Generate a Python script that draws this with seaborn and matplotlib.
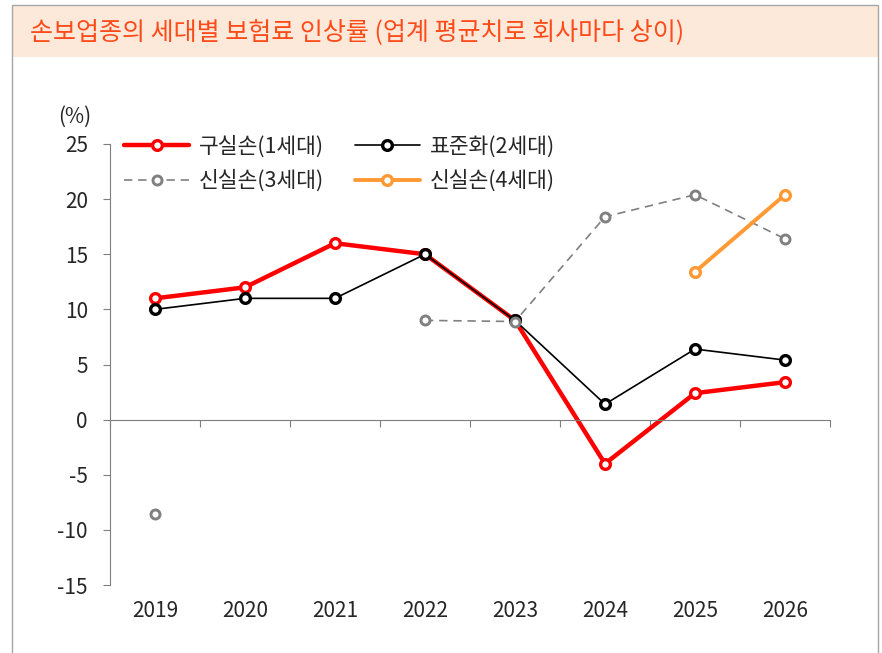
import numpy as np
import matplotlib
matplotlib.use("Agg")
import matplotlib.pyplot as plt
import matplotlib.transforms as mtransforms
from matplotlib.lines import Line2D
from matplotlib.patches import Rectangle
import seaborn as sns

# ----------- 데이터 -----------
years = ["2019", "2020", "2021", "2022", "2023", "2024", "2025", "2026"]
gen1 = [11, 12, 16, 15, 9, -4, 2.4, 3.4]                       # 구실손(1세대)
gen2 = [10, 11, 11, 15, 9, 1.4, 6.4, 5.4]                      # 표준화(2세대)
gen3 = [-8.6, np.nan, np.nan, 9, 8.9, 18.4, 20.4, 16.4]        # 신실손(3세대)
gen4 = [np.nan, np.nan, np.nan, np.nan, np.nan, np.nan, 13.4, 20.4]  # 신실손(4세대)
labels = ["구실손(1세대)", "표준화(2세대)", "신실손(3세대)", "신실손(4세대)"]
title = "손보업종의 세대별 보험료 인상률 (업계 평균치로 회사마다 상이)"

sns.set_style("white")
plt.rcParams["font.family"] = ["Noto Sans CJK KR", "DejaVu Sans"]
plt.rcParams["axes.unicode_minus"] = False

fig = plt.figure(figsize=(8.82, 6.53), dpi=100)
ax = fig.add_axes([110 / 882, 1 - 585 / 653, 720 / 882, 441 / 653])

# 상단 제목 띠 + 테두리
fig.patches.append(Rectangle((12 / 882, 1 - 57 / 653), 866 / 882, 52 / 653,
                             transform=fig.transFigure, facecolor="#fde9d9",
                             edgecolor="none", zorder=0))
fig.patches.append(Rectangle((12 / 882, -0.01), 866 / 882, 1.01 - 5 / 653,
                             transform=fig.transFigure, facecolor="none",
                             edgecolor="#a6a6a6", lw=1, zorder=1))
fig.text(30 / 882, 1 - 32 / 653, title, color="#ff4b1a", fontsize=18,
         ha="left", va="center")


def runs(vals):
    # NaN 에서 선을 끊기 위해 연속 구간으로 나눔
    out, cur = [], []
    for i, v in enumerate(vals):
        if np.isnan(v):
            if cur:
                out.append(cur)
            cur = []
        else:
            cur.append(i)
    if cur:
        out.append(cur)
    return out


styles = [
    dict(color="#ff0000", lw=3.2, ls="-", ms=7, mew=2.4),
    dict(color="#000000", lw=1.2, ls="-", ms=7, mew=2.4),
    dict(color="#808080", lw=1.2, ls=(0, (5, 3.5)), ms=6.5, mew=2.1),
    dict(color="#ff9933", lw=2.8, ls="-", ms=7, mew=2.4),
]
xs = np.arange(len(years))
for vals, st in zip([gen1, gen2, gen3, gen4], styles):
    vals = np.array(vals, dtype=float)
    for idx in runs(vals):
        sns.lineplot(x=xs[idx], y=vals[idx], ax=ax, color=st["color"],
                     lw=st["lw"], linestyle=st["ls"], marker="o",
                     markersize=st["ms"], markerfacecolor="white",
                     markeredgecolor=st["color"], markeredgewidth=st["mew"],
                     legend=False)

# 축 설정
ax.set_xlim(-0.5, len(years) - 0.5)
ax.set_ylim(-15, 25)
ax.set_yticks(range(-15, 26, 5))
ax.set_xticks(np.arange(-0.5, len(years), 1))
ax.set_xticklabels([])
ax.spines["bottom"].set_position(("data", 0))
ax.spines["bottom"].set_color("#7f7f7f")
ax.spines["left"].set_color("#7f7f7f")
ax.spines["top"].set_visible(False)
ax.spines["right"].set_visible(False)
ax.tick_params(axis="x", direction="out", length=5, color="#7f7f7f", bottom=True)
ax.tick_params(axis="y", direction="out", length=5, color="#7f7f7f", left=True,
               labelsize=15, pad=11)
ax.set_xlabel("")
ax.set_ylabel("")

trans = mtransforms.blended_transform_factory(ax.transData, ax.transAxes)
for i, yr in enumerate(years):
    ax.text(i, -0.06, yr, transform=trans, ha="center", va="center", fontsize=15)

fig.text(75 / 882, 1 - 117 / 653, "(%)", ha="center", va="center", fontsize=15)

# 범례 (2x2)
handles = []
for st in styles:
    handles.append(Line2D([], [], color=st["color"], lw=st["lw"], linestyle=st["ls"],
                          marker="o", markersize=st["ms"], markerfacecolor="white",
                          markeredgecolor=st["color"], markeredgewidth=st["mew"]))
order = [0, 2, 1, 3]
ax.legend([handles[i] for i in order], [labels[i] for i in order], ncol=2,
          loc="upper left", bbox_to_anchor=(0.02, 1.019), frameon=False,
          fontsize=15.5, handlelength=3.0, handletextpad=0.45, columnspacing=1.45,
          labelspacing=0.55, borderpad=0, borderaxespad=0)

fig.savefig("out.png", dpi=100)
